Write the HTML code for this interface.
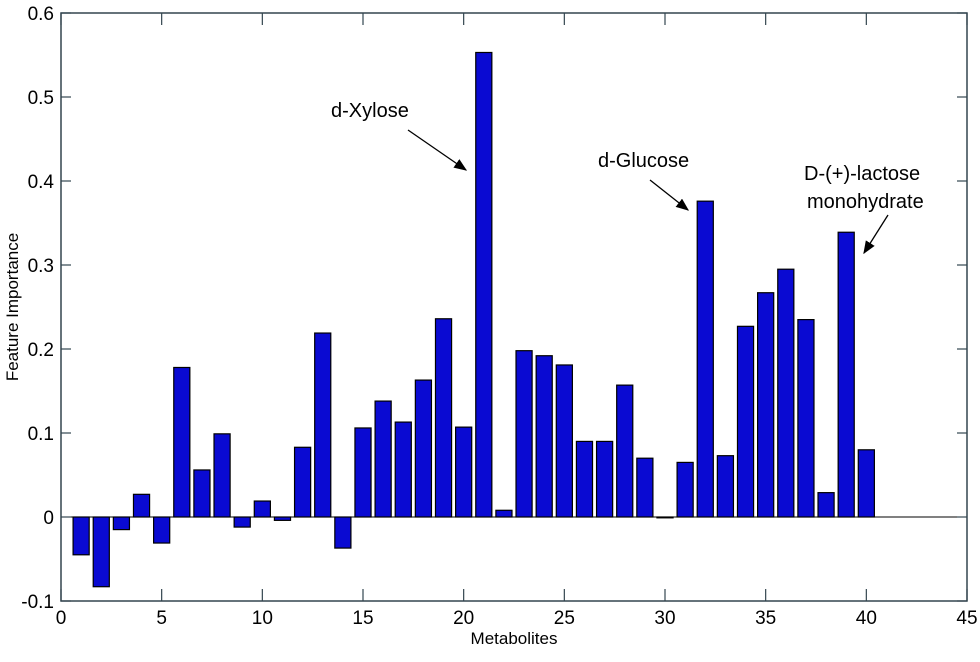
<!DOCTYPE html>
<html><head><meta charset="utf-8"><style>
body{margin:0;background:#fff}
svg text{font-family:"Liberation Sans",Arial,sans-serif;fill:#000}
</style></head><body>
<svg id="chart" width="980" height="657" xmlns="http://www.w3.org/2000/svg">
<defs><marker id="ah" markerWidth="10" markerHeight="8" refX="9" refY="4" orient="auto"><path d="M0,0 L10,4 L0,8 z" fill="#000"/></marker></defs>
<g id="bars"></g>
<line id="zero" stroke="#000" stroke-width="1"/>
<rect id="frame" fill="none" stroke="#33454f" stroke-width="1.5"/>
<g id="ticks"></g>
<text x="514" y="644" font-size="17" text-anchor="middle">Metabolites</text>
<text transform="translate(18,307) rotate(-90)" font-size="17" text-anchor="middle">Feature Importance</text>
<text x="331" y="117" font-size="20">d-Xylose</text>
<line x1="408" y1="130" x2="466" y2="170" stroke="#000" stroke-width="1.3" marker-end="url(#ah)"/>
<text x="598" y="167" font-size="20">d-Glucose</text>
<line x1="650" y1="180" x2="688" y2="210" stroke="#000" stroke-width="1.3" marker-end="url(#ah)"/>
<text x="804" y="180" font-size="20">D-(+)-lactose</text>
<text x="807" y="208" font-size="20">monohydrate</text>
<line x1="888" y1="215" x2="864" y2="253" stroke="#000" stroke-width="1.3" marker-end="url(#ah)"/>
</svg>
<script>
const categories=[1,2,3,4,5,6,7,8,9,10,11,12,13,14,15,16,17,18,19,20,21,22,23,24,25,26,27,28,29,30,31,32,33,34,35,36,37,38,39,40];
const values=[-0.045,-0.083,-0.015,0.027,-0.031,0.178,0.056,0.099,-0.012,0.019,-0.004,0.083,0.219,-0.037,0.106,0.138,0.113,0.163,0.236,0.107,0.553,0.008,0.198,0.192,0.181,0.09,0.09,0.157,0.07,-0.001,0.065,0.376,0.073,0.227,0.267,0.295,0.235,0.029,0.339,0.08];
const xTicks=[0,5,10,15,20,25,30,35,40,45];
const yTicks=[-0.1,0,0.1,0.2,0.3,0.4,0.5,0.6];
const L=61,R=967,T=13,B=601,xmin=0,xmax=45,ymin=-0.1,ymax=0.6;
const NS="http://www.w3.org/2000/svg";
const x=v=>L+(v-xmin)/(xmax-xmin)*(R-L);
const y=v=>B-(v-ymin)/(ymax-ymin)*(B-T);
function mk(tag,attrs,parent){const e=document.createElementNS(NS,tag);for(const k in attrs)e.setAttribute(k,attrs[k]);parent.appendChild(e);return e;}
const bars=document.getElementById('bars');
const bw=0.8;
categories.forEach((c,i)=>{
  const v=values[i];
  const r=mk('rect',{x:x(c-bw/2),y:Math.min(y(v),y(0)),width:x(bw)-x(0),height:Math.max(Math.abs(y(v)-y(0)),0.5),fill:'#0a0ad2',stroke:'#000','stroke-width':1.2},bars);
  
  
});
const z=document.getElementById('zero');
z.setAttribute('x1',L);z.setAttribute('x2',R);z.setAttribute('y1',y(0));z.setAttribute('y2',y(0));
const f=document.getElementById('frame');
f.setAttribute('x',L);f.setAttribute('y',T);f.setAttribute('width',R-L);f.setAttribute('height',B-T);
const tk=document.getElementById('ticks');
xTicks.forEach(t=>{
  mk('line',{x1:x(t),x2:x(t),y1:B,y2:B-12,stroke:'#33454f','stroke-width':1.2},tk);
  mk('line',{x1:x(t),x2:x(t),y1:T,y2:T+12,stroke:'#33454f','stroke-width':1.2},tk);
  const l=mk('text',{x:x(t),y:B+23,'font-size':19,'text-anchor':'middle'},tk);
  l.textContent=t;
  
  
});
yTicks.forEach(t=>{
  mk('line',{x1:L,x2:L+10,y1:y(t),y2:y(t),stroke:'#33454f','stroke-width':1.2},tk);
  mk('line',{x1:R,x2:R-10,y1:y(t),y2:y(t),stroke:'#33454f','stroke-width':1.2},tk);
  const l=mk('text',{x:L-7,y:y(t)+7,'font-size':19,'text-anchor':'end'},tk);
  l.textContent=t===0?'0':String(t);
  
  
});
</script>
</body></html>
